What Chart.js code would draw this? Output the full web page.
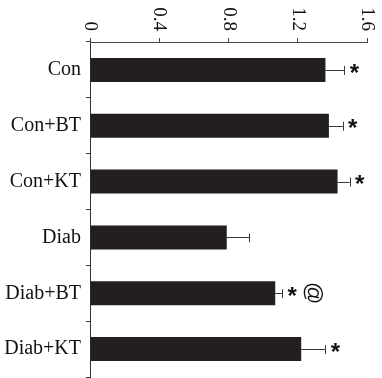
<!DOCTYPE html>
<html>
<head>
<meta charset="utf-8">
<script src="https://cdn.jsdelivr.net/npm/chart.js@4/dist/chart.umd.min.js"></script>
<style>
  html, body { margin: 0; padding: 0; background: #fff; overflow: hidden; }
  #wrap { width: 382px; height: 378px; }
</style>
</head>
<body>
<div id="wrap"><canvas id="c"></canvas></div>
<script>
// Groups, means and SEM
const groups = ['Con', 'Con+BT', 'Con+KT', 'Diab', 'Diab+BT', 'Diab+KT'];
const means = [1.36, 1.38, 1.43, 0.79, 1.07, 1.22];
const sem = [0.11, 0.08, 0.07, 0.13, 0.04, 0.14];
// Significance markers per group
const starMarks = ['*', '*', '*', '', '*', '*'];
const atMarks = ['', '', '', '', '@', ''];
const xTicks = [0, 0.4, 0.8, 1.2, 1.6];

const serif = "'Liberation Serif', 'Times New Roman', serif";

// Rotated value labels on the top axis, error bars and markers
const extras = {
  id: 'extras',
  afterDatasetsDraw(chart) {
    const ctx = chart.ctx;
    const xs = chart.scales.x;
    const ys = chart.scales.y;
    ctx.save();
    // error bars (positive side)
    ctx.strokeStyle = '#3a3a3a';
    ctx.lineWidth = 1;
    groups.forEach((g, i) => {
      const yc = ys.getPixelForValue(i);
      const x0 = xs.getPixelForValue(means[i]);
      const x1 = xs.getPixelForValue(means[i] + sem[i]);
      ctx.beginPath();
      ctx.moveTo(x0, Math.round(yc) + 0.5);
      ctx.lineTo(x1, Math.round(yc) + 0.5);
      ctx.moveTo(Math.round(x1) + 0.5, yc - 4);
      ctx.lineTo(Math.round(x1) + 0.5, yc + 5);
      ctx.stroke();
    });
    // markers
    ctx.fillStyle = '#111';
    ctx.textBaseline = 'middle';
    ctx.textAlign = 'center';
    groups.forEach((g, i) => {
      const yc = ys.getPixelForValue(i);
      const xe = xs.getPixelForValue(means[i] + sem[i]);
      if (starMarks[i]) {
        ctx.font = "bold 24px 'Liberation Sans', Arial, sans-serif";
        ctx.fillText(starMarks[i], xe + 10, yc + 4);
      }
      if (atMarks[i]) {
        ctx.save();
        ctx.translate(xe + 31, yc);
        ctx.rotate(Math.PI / 2);
        ctx.font = "22px 'Liberation Sans', Arial, sans-serif";
        ctx.fillText(atMarks[i], 0, 0);
        ctx.restore();
      }
    });
    // top axis tick labels, rotated clockwise
    ctx.font = '19px ' + serif;
    ctx.fillStyle = '#111';
    ctx.textAlign = 'right';
    ctx.textBaseline = 'middle';
    xTicks.forEach(v => {
      const px = xs.getPixelForValue(v);
      ctx.save();
      ctx.translate(px, xs.bottom - 11);
      ctx.rotate(Math.PI / 2);
      ctx.fillText(String(v), 0, 0);
      ctx.restore();
    });
    ctx.restore();
  }
};

new Chart(document.getElementById('c'), {
  type: 'bar',
  data: {
    labels: groups,
    datasets: [{
      data: means,
      backgroundColor: '#231f20',
      borderWidth: 0,
      barPercentage: 0.43,
      categoryPercentage: 1.0
    }]
  },
  options: {
    indexAxis: 'y',
    responsive: true,
    maintainAspectRatio: false,
    animation: false,
    devicePixelRatio: 1,
    layout: { padding: { left: 0, right: 15, top: 0, bottom: 1 } },
    plugins: { legend: { display: false }, tooltip: { enabled: false } },
    scales: {
      x: {
        position: 'top',
        min: 0,
        max: 1.6,
        afterFit(scale) { scale.height = 42; scale.paddingLeft = 0; scale.paddingRight = 0; },
        afterBuildTicks(scale) { scale.ticks = xTicks.map(v => ({ value: v })); },
        ticks: { display: false },
        grid: { drawOnChartArea: false, drawTicks: true, tickLength: 4, color: '#444' },
        border: { color: '#444', width: 1 }
      },
      y: {
        afterFit(scale) { scale.width = 90; scale.paddingTop = 0; scale.paddingBottom = 0; },
        ticks: {
          color: '#111',
          font: { family: serif, size: 20 },
          padding: 5
        },
        grid: { offset: true, drawOnChartArea: false, tickLength: 4, color: '#333' },
        border: { color: '#333', width: 1 }
      }
    }
  },
  plugins: [extras]
});
</script>
</body>
</html>
